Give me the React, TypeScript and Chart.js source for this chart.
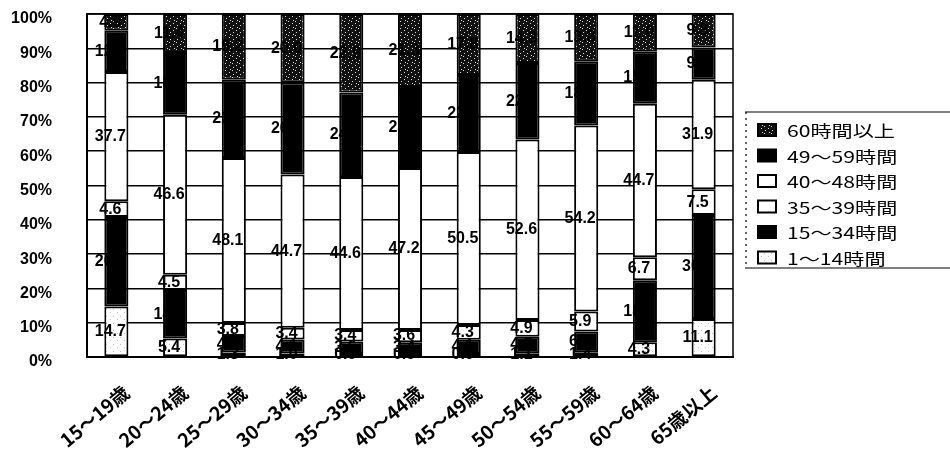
import React, { useEffect, useRef } from "react";
import { Chart, registerables } from "chart.js";

Chart.register(...registerables);

const categories = [
  "15～19歳",
  "20～24歳",
  "25～29歳",
  "30～34歳",
  "35～39歳",
  "40～44歳",
  "45～49歳",
  "50～54歳",
  "55～59歳",
  "60～64歳",
  "65歳以上",
];

const seriesNames = [
  "1～14時間",
  "15～34時間",
  "35～39時間",
  "40～48時間",
  "49～59時間",
  "60時間以上",
];

const hours1to14 = [14.7, 5.4, 1.3, 1.0, 0.9, 0.9, 0.9, 1.1, 1.4, 4.3, 11.1];
const hours15to34 = [26.1, 14.1, 4.8, 4.1, 3.6, 3.4, 4.1, 4.8, 6.0, 18.1, 30.3];
const hours35to39 = [4.6, 4.5, 3.8, 3.4, 3.4, 3.6, 4.3, 4.9, 5.9, 6.7, 7.5];
const hours40to48 = [37.7, 46.6, 48.1, 44.7, 44.6, 47.2, 50.5, 52.6, 54.2, 44.7, 31.9];
const hours49to59 = [12.0, 18.0, 22.8, 26.8, 24.6, 23.6, 22.4, 22.3, 18.7, 15.2, 9.4];
const hours60plus = [4.9, 11.4, 19.2, 20.0, 22.9, 21.3, 17.8, 14.3, 13.8, 11.0, 9.8];

const yTickValues = [0, 10, 20, 30, 40, 50, 60, 70, 80, 90, 100];

function makePattern(ctx: CanvasRenderingContext2D, kind: "dark" | "light") {
  const c = document.createElement("canvas");
  c.width = 7;
  c.height = 7;
  const g = c.getContext("2d")!;
  if (kind === "dark") {
    g.fillStyle = "#111111";
    g.fillRect(0, 0, 7, 7);
    g.fillStyle = "#d8d8d8";
    const pts = [
      [1, 0],
      [5, 2],
      [2, 4],
      [6, 6],
    ];
    pts.forEach(([x, y]) => g.fillRect(x, y, 1, 1));
  } else {
    g.fillStyle = "#ffffff";
    g.fillRect(0, 0, 7, 7);
    g.fillStyle = "#c0c0c0";
    const pts = [
      [1, 1],
      [5, 4],
    ];
    pts.forEach(([x, y]) => g.fillRect(x, y, 1, 1));
  }
  return ctx.createPattern(c, "repeat") as CanvasPattern;
}

export default function App() {
  const canvasRef = useRef<HTMLCanvasElement | null>(null);

  useEffect(() => {
    document.body.style.margin = "0";
    const canvas = canvasRef.current!;
    const ctx = canvas.getContext("2d")!;
    const darkPat = makePattern(ctx, "dark");
    const lightPat = makePattern(ctx, "light");

    const seriesData = [hours1to14, hours15to34, hours35to39, hours40to48, hours49to59, hours60plus];
    const fills: (string | CanvasPattern)[] = [lightPat, "#000000", "#ffffff", "#ffffff", "#000000", darkPat];

    const datasets = seriesNames.map((name, i) => ({
      label: name,
      data: seriesData[i],
      backgroundColor: fills[i] as any,
      borderColor: "#000000",
      borderWidth: 2,
      borderSkipped: false as any,
      barPercentage: 0.41,
      categoryPercentage: 1.0,
    }));

    const frame = {
      id: "frame",
      afterDraw(chart: any) {
        const { left, right, top, bottom } = chart.chartArea;
        const c = chart.ctx;
        c.save();
        c.strokeStyle = "#000";
        c.lineWidth = 1.5;
        c.strokeRect(left, top, right - left, bottom - top);
        c.restore();
      },
    };

    const valueLabels = {
      id: "valueLabels",
      afterDatasetsDraw(chart: any) {
        const c = chart.ctx;
        c.save();
        c.font = "bold 16px 'Liberation Sans', Arial, sans-serif";
        c.fillStyle = "#000";
        c.textAlign = "center";
        c.textBaseline = "middle";
        chart.data.datasets.forEach((ds: any, di: number) => {
          const meta = chart.getDatasetMeta(di);
          meta.data.forEach((bar: any, i: number) => {
            const v = ds.data[i] as number;
            const p = bar.getProps(["x", "y", "base"], true);
            c.fillText(v.toFixed(1), p.x - 6, (p.y + p.base) / 2);
          });
        });
        c.restore();
      },
    };

    const sideLegend = {
      id: "sideLegend",
      afterDraw(chart: any) {
        const c = chart.ctx;
        const area = chart.chartArea;
        const left = area.right + 12;
        const top = area.top + 98;
        const bottom = top + 156;
        const right = chart.width;
        c.save();
        c.strokeStyle = "#000";
        c.lineWidth = 1.2;
        c.beginPath();
        c.moveTo(left, top);
        c.lineTo(right, top);
        c.moveTo(left, bottom);
        c.lineTo(right, bottom);
        c.stroke();
        c.setLineDash([2, 4]);
        c.beginPath();
        c.moveTo(left + 1, top);
        c.lineTo(left + 1, bottom);
        c.stroke();
        c.setLineDash([]);
        const n = chart.data.datasets.length;
        for (let k = 0; k < n; k++) {
          const di = n - 1 - k;
          const ds = chart.data.datasets[di];
          const cy = top + 18 + k * 25.5;
          c.fillStyle = ds.backgroundColor;
          c.fillRect(left + 13, cy - 6, 18, 12);
          c.lineWidth = 2;
          c.strokeStyle = "#000";
          c.strokeRect(left + 13, cy - 6, 18, 12);
          c.save();
          c.translate(left + 42, cy);
          c.scale(1.32, 1);
          c.font = "16px 'Noto Sans CJK JP', sans-serif";
          c.fillStyle = "#000";
          c.textAlign = "left";
          c.textBaseline = "middle";
          c.fillText(ds.label, 0, 1);
          c.restore();
        }
        c.restore();
      },
    };

    const chart = new Chart(canvas, {
      type: "bar",
      data: { labels: categories, datasets },
      plugins: [frame, valueLabels, sideLegend],
      options: {
        animation: false,
        responsive: false,
        devicePixelRatio: 1,
        layout: { padding: { left: 0, right: 217, top: 14, bottom: 0 } },
        plugins: {
          legend: { display: false },
          tooltip: { enabled: false },
          title: { display: false },
        },
        scales: {
          x: {
            stacked: true,
            grid: { display: false },
            border: { display: true, color: "#000", width: 2 },
            ticks: {
              autoSkip: false,
              minRotation: 40,
              maxRotation: 40,
              labelOffset: 10,
              padding: 16,
              color: "#000",
              font: { family: "'Noto Sans CJK JP', sans-serif", size: 19, weight: "bold" },
            },
            afterFit: (scale: any) => {
              scale.height = 98;
            },
          },
          y: {
            stacked: true,
            min: 0,
            max: 100,
            afterBuildTicks: (scale: any) => {
              scale.ticks = yTickValues.map((v) => ({ value: v }));
            },
            grid: { color: "#000", lineWidth: 1.5, drawTicks: true, tickLength: 31, tickColor: "rgba(0,0,0,0)" },
            border: { display: true, color: "#000", width: 2 },
            ticks: {
              padding: 4,
              labelOffset: 5,
              color: "#000",
              font: { family: "'Liberation Sans', Arial, sans-serif", size: 16, weight: "bold" },
              callback: (v: any) => `${v}%`,
            },
            afterFit: (scale: any) => {
              scale.width = 87;
            },
          },
        },
      },
    });

    return () => {
      chart.destroy();
    };
  }, []);

  return (
    <div style={{ width: 950, height: 455 }}>
      <canvas ref={canvasRef} width={950} height={455} />
    </div>
  );
}
